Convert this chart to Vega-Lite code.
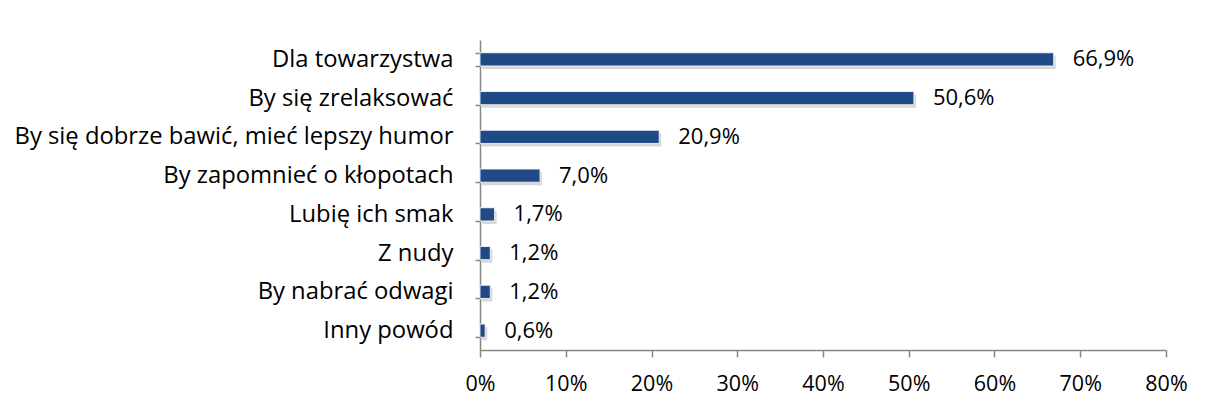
{
  "$schema": "https://vega.github.io/schema/vega-lite/v6.json",
  "autosize": {"type": "none"},
  "width": 686,
  "height": 310,
  "padding": {"left": 480, "top": 40, "right": 42, "bottom": 58},
  "background": "white",
  "config": {
    "view": {"stroke": null},
    "font": "Open Sans",
    "locale": {"number": {"decimal": ",", "thousands": " ", "grouping": [3], "currency": ["", " zł"]}}
  },
  "data": {
    "values": [
      {"category": "Dla towarzystwa", "value": 0.669},
      {"category": "By się zrelaksować", "value": 0.506},
      {"category": "By się dobrze bawić, mieć lepszy humor", "value": 0.209},
      {"category": "By zapomnieć o kłopotach", "value": 0.070},
      {"category": "Lubię ich smak", "value": 0.017},
      {"category": "Z nudy", "value": 0.012},
      {"category": "By nabrać odwagi", "value": 0.012},
      {"category": "Inny powód", "value": 0.006}
    ]
  },
  "encoding": {
    "y": {
      "field": "category",
      "type": "nominal",
      "sort": null,
      "scale": {"paddingInner": 0.66, "paddingOuter": 0.33},
      "axis": {
        "title": null,
        "tickBand": "extent",
        "tickSize": 5,
        "tickColor": "#868686",
        "tickWidth": 1.5,
        "domainColor": "#868686",
        "domainWidth": 1.5,
        "labelPadding": 22,
        "labelFontSize": 23.8,
        "labelColor": "#000000",
        "labelFont": "Open Sans",
        "labelLimit": 0
      }
    },
    "x": {
      "field": "value",
      "type": "quantitative",
      "scale": {"domain": [0, 0.8], "nice": false},
      "axis": {
        "title": null,
        "format": ".0%",
        "values": [0, 0.1, 0.2, 0.3, 0.4, 0.5, 0.6, 0.7, 0.8],
        "grid": false,
        "labelFlush": false,
        "labelOverlap": false,
        "tickSize": 7,
        "tickColor": "#868686",
        "tickWidth": 1.5,
        "domainColor": "#868686",
        "domainWidth": 1.5,
        "labelPadding": 16,
        "labelFontSize": 21.5,
        "labelColor": "#000000",
        "labelFont": "Open Sans"
      }
    }
  },
  "layer": [
    {"mark": {"type": "bar", "color": "#9a9a9a", "opacity": 0.4, "xOffset": 2, "yOffset": 3}},
    {"mark": {"type": "bar", "color": "#1F4A85", "stroke": "#ffffff", "strokeWidth": 0.8}},
    {
      "mark": {"type": "text", "align": "left", "baseline": "middle", "dx": 19, "fontSize": 22, "color": "#000000", "font": "Open Sans"},
      "encoding": {"text": {"field": "value", "type": "quantitative", "format": ".1%"}}
    }
  ]
}
